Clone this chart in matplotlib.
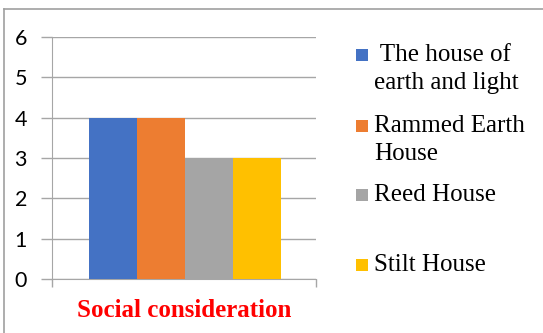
import matplotlib.pyplot as plt
from matplotlib.lines import Line2D
from matplotlib.patches import Rectangle

# chart data
category = "Social consideration"
series_names = [" The house of\nearth and light", "Rammed Earth\nHouse", "Reed House", "Stilt House"]
series_values = [4, 4, 3, 3]
series_colors = ["#4472C4", "#ED7D31", "#A5A5A5", "#FFC000"]
y_ticks = [0, 1, 2, 3, 4, 5, 6]

W, H = 543, 333
fig = plt.figure(figsize=(W / 100, H / 100), dpi=100)

# frame around the chart (only top and left edges visible)
fig.add_artist(Line2D([4 / W, 1], [1 - 9 / H, 1 - 9 / H], color="#a0a0a0", lw=1.2))
fig.add_artist(Line2D([4 / W, 4 / W], [0, 1 - 9 / H], color="#a0a0a0", lw=1.2))

ax = fig.add_axes([52 / W, 54 / H, 264 / W, 242 / H])

bar_w = 0.182
n = len(series_values)
for i, (val, col) in enumerate(zip(series_values, series_colors)):
    ax.bar((i - (n - 1) / 2) * bar_w + 0.004, val, width=bar_w, color=col, zorder=3)

ax.set_xlim(-0.5, 0.5)
ax.set_ylim(0, 6)
ax.set_yticks(y_ticks)
ax.set_yticklabels([str(t) for t in y_ticks], fontfamily="Lato", fontsize=15.5)
ax.tick_params(axis="y", length=8, width=1, color="#a6a6a6", pad=10)
ax.set_xticks([-0.5, 0.5])
ax.set_xticklabels(["", ""])
ax.tick_params(axis="x", length=6, width=1, color="#a6a6a6")
ax.grid(axis="y", color="#a6a6a6", lw=1, zorder=0)

for s in ["top", "right"]:
    ax.spines[s].set_visible(False)
for s in ["left", "bottom"]:
    ax.spines[s].set_color("#a6a6a6")

ax.set_xlabel(category, fontfamily="Liberation Serif", fontweight="bold",
              fontsize=18, color="#FF0000", labelpad=5)

# legend on the right, laid out like the original (uneven gaps)
key_y = [55, 126, 195, 265]      # pixel row of each colour key
text_y = [69, 140, 195, 265]     # pixel row of each label centre
for name, col, ky, ty in zip(series_names, series_colors, key_y, text_y):
    fig.add_artist(Rectangle((356 / W, 1 - (ky + 6) / H), 12 / W, 12 / H,
                             facecolor=col, edgecolor="none", transform=fig.transFigure))
    fig.text(374 / W, 1 - ty / H, name, ha="left", va="center",
             fontfamily="Liberation Serif", fontsize=18, linespacing=1.3)

fig.savefig("out.png", dpi=100)
